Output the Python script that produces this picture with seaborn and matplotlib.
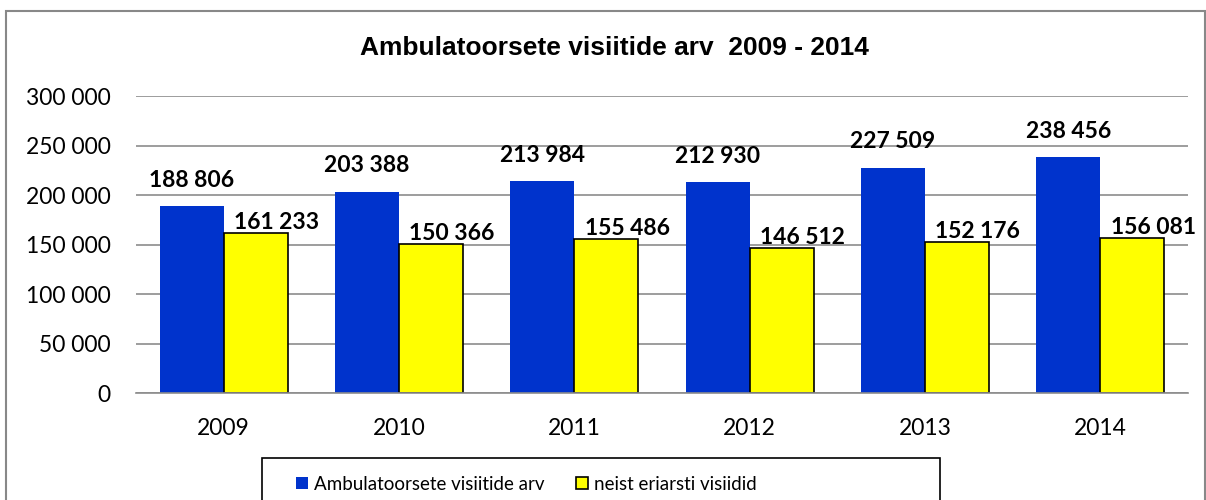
import matplotlib
matplotlib.use("Agg")
import matplotlib.pyplot as plt
import matplotlib.patches as mpatches
import seaborn as sns
import pandas as pd

years = ["2009", "2010", "2011", "2012", "2013", "2014"]
ambulatory = [188806, 203388, 213984, 212930, 227509, 238456]
specialist = [161233, 150366, 155486, 146512, 152176, 156081]
series_names = ["Ambulatoorsete visiitide arv", "neist eriarsti visiidid"]
colors = ["#0033CC", "#FFFF00"]
yticks = [0, 50000, 100000, 150000, 200000, 250000, 300000]

df = pd.DataFrame({
    "year": years * 2,
    "value": ambulatory + specialist,
    "series": [series_names[0]] * len(years) + [series_names[1]] * len(years),
})

sns.set_theme(style="white")
plt.rcParams["font.family"] = ["Lato", "DejaVu Sans"]
plt.rcParams["text.color"] = "black"
plt.rcParams["xtick.color"] = "black"
plt.rcParams["ytick.color"] = "black"


def fmt(v):
    return f"{int(round(v)):,}".replace(",", " ")


W, H = 1206, 500
fig = plt.figure(figsize=(W / 100, H / 100), dpi=100)
ax = fig.add_axes([136 / W, 1 - 393 / H, (1188 - 136) / W, (393 - 96) / H])

palette = dict(zip(series_names, colors))
sns.barplot(data=df, x="year", y="value", hue="series", palette=palette,
            width=0.73, saturation=1, ax=ax, legend=False)

for bar in ax.containers[0]:
    bar.set_edgecolor("none")
for bar in ax.containers[1]:
    bar.set_edgecolor("black")
    bar.set_linewidth(1.2)

# data labels: blue ones centred above, yellow ones nudged right (as in the source)
offsets = [(0, 11), (15, 0)]
for cont, (dx, dy) in zip(ax.containers, offsets):
    for b in cont:
        ax.annotate(fmt(b.get_height()), (b.get_x() + b.get_width() / 2, b.get_height()),
                    xytext=(dx, dy), textcoords="offset points", ha="center", va="bottom",
                    fontsize=16.5, fontweight="bold", color="black")

ax.set_ylim(0, 300000)
ax.set_xlim(-0.5, 5.5)
ax.set_yticks(yticks)
ax.set_yticklabels([fmt(t) for t in yticks], fontsize=16.5)
ax.tick_params(axis="x", labelsize=16.5, length=0, pad=18, labelcolor="black")
ax.tick_params(axis="y", length=0, pad=18, labelcolor="black")
ax.yaxis.grid(True, color="#8c8c8c", linewidth=1.2)
ax.set_axisbelow(True)
ax.set_xlabel("")
ax.set_ylabel("")
for side in ["left", "right", "top"]:
    ax.spines[side].set_visible(False)
ax.spines["bottom"].set_color("#8c8c8c")
ax.spines["bottom"].set_linewidth(1.2)

fig.text(614 / W, 1 - 48 / H, "Ambulatoorsete visiitide arv  2009 - 2014",
         ha="center", va="center", fontsize=19, fontweight="bold", color="black",
         family=["Liberation Sans", "DejaVu Sans"])

handles = [mpatches.Patch(facecolor=colors[0], edgecolor="none"),
           mpatches.Patch(facecolor=colors[1], edgecolor="black", linewidth=1.2)]
leg = fig.legend(handles, series_names, loc="center left", bbox_to_anchor=(296 / W, 1 - 484 / H),
                 ncol=2, fontsize=13.5, frameon=False, handlelength=0.65, handleheight=0.65,
                 handletextpad=0.3, columnspacing=1.7, borderpad=0, borderaxespad=0)
for t in leg.get_texts():
    t.set_color("black")

legend_box = mpatches.Rectangle((262 / W, -0.1), (940 - 262) / W, 0.1 + 1 - 458 / H,
                                transform=fig.transFigure, fill=False,
                                edgecolor="black", linewidth=1.2)
fig.patches.append(legend_box)

border = mpatches.Rectangle((6 / W, -0.1), (1205 - 6) / W, 1.1 - 11 / H,
                            transform=fig.transFigure, fill=False,
                            edgecolor="#888888", linewidth=1.5)
fig.patches.append(border)

fig.savefig("out.png", dpi=100)
